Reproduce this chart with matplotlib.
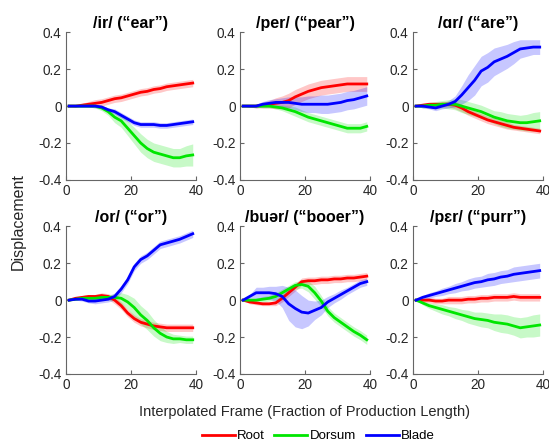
import numpy as np
import matplotlib
matplotlib.use("Agg")
import matplotlib.pyplot as plt

plt.rcParams['font.family'] = ['Liberation Sans', 'DejaVu Sans']

frames = [1, 3, 5, 7, 9, 11, 13, 15, 17, 19, 21, 23, 25, 27, 29, 31, 33, 35, 37, 39]

titles = ['/ir/ (\u201cear\u201d)', '/per/ (\u201cpear\u201d)', '/\u0251r/ (\u201care\u201d)',
          '/or/ (\u201cor\u201d)', '/bu\u0259r/ (\u201cbooer\u201d)', '/p\u025br/ (\u201cpurr\u201d)']

# mean displacement per articulator, one list per panel
root = [
    [0, 0, 0.005, 0.01, 0.015, 0.02, 0.03, 0.04, 0.045, 0.055, 0.065, 0.075, 0.08, 0.09, 0.095, 0.105, 0.11, 0.115, 0.12, 0.125],
    [0, 0, 0, 0.005, 0.01, 0.015, 0.02, 0.03, 0.05, 0.065, 0.08, 0.09, 0.1, 0.105, 0.11, 0.115, 0.12, 0.12, 0.12, 0.12],
    [0, 0.005, 0.01, 0.01, 0.01, 0.01, 0.005, -0.01, -0.03, -0.045, -0.06, -0.075, -0.085, -0.095, -0.105, -0.115, -0.12, -0.125, -0.13, -0.135],
    [0, 0.01, 0.015, 0.02, 0.02, 0.025, 0.02, 0.0, -0.03, -0.07, -0.1, -0.12, -0.13, -0.14, -0.145, -0.15, -0.15, -0.15, -0.15, -0.15],
    [0, -0.01, -0.015, -0.02, -0.02, -0.015, 0.01, 0.04, 0.07, 0.1, 0.105, 0.105, 0.11, 0.11, 0.115, 0.115, 0.12, 0.12, 0.125, 0.13],
    [0, 0, 0, -0.005, -0.005, 0, 0, 0, 0.005, 0.005, 0.01, 0.01, 0.015, 0.015, 0.015, 0.02, 0.015, 0.015, 0.015, 0.015],
]
dorsum = [
    [0, 0, 0, 0, 0, -0.01, -0.03, -0.06, -0.08, -0.12, -0.16, -0.2, -0.23, -0.25, -0.26, -0.27, -0.28, -0.28, -0.27, -0.265],
    [0, 0, 0, 0, 0, -0.005, -0.01, -0.02, -0.03, -0.045, -0.06, -0.07, -0.08, -0.09, -0.1, -0.11, -0.12, -0.12, -0.12, -0.11],
    [0, 0, 0.005, 0.005, 0.01, 0.01, 0.01, 0.0, -0.01, -0.02, -0.03, -0.045, -0.06, -0.07, -0.08, -0.085, -0.09, -0.09, -0.085, -0.08],
    [0, 0.005, 0.01, 0.01, 0.01, 0.015, 0.015, 0.015, 0.01, -0.01, -0.04, -0.08, -0.11, -0.15, -0.18, -0.2, -0.21, -0.21, -0.215, -0.215],
    [0, 0, 0, 0.005, 0.01, 0.02, 0.04, 0.06, 0.08, 0.085, 0.075, 0.04, -0.005, -0.06, -0.095, -0.12, -0.145, -0.17, -0.19, -0.215],
    [0, -0.015, -0.03, -0.04, -0.05, -0.06, -0.07, -0.08, -0.09, -0.1, -0.105, -0.11, -0.12, -0.125, -0.13, -0.14, -0.15, -0.145, -0.14, -0.135],
]
blade = [
    [0, 0, 0, 0, 0, -0.005, -0.02, -0.03, -0.05, -0.07, -0.09, -0.1, -0.1, -0.1, -0.105, -0.105, -0.1, -0.095, -0.09, -0.085],
    [0, 0, 0, 0.01, 0.015, 0.02, 0.02, 0.02, 0.015, 0.01, 0.01, 0.01, 0.01, 0.01, 0.015, 0.02, 0.03, 0.035, 0.045, 0.055],
    [0, 0, -0.005, -0.01, 0, 0.01, 0.025, 0.06, 0.1, 0.14, 0.19, 0.21, 0.24, 0.255, 0.27, 0.29, 0.31, 0.315, 0.32, 0.32],
    [0, 0.005, 0.005, -0.005, -0.005, 0, 0.005, 0.02, 0.06, 0.11, 0.18, 0.22, 0.24, 0.27, 0.3, 0.31, 0.32, 0.33, 0.345, 0.36],
    [0, 0.02, 0.04, 0.04, 0.04, 0.035, 0.02, -0.02, -0.045, -0.065, -0.07, -0.055, -0.04, -0.01, 0.01, 0.03, 0.05, 0.07, 0.09, 0.1],
    [0, 0.015, 0.025, 0.035, 0.045, 0.055, 0.065, 0.075, 0.085, 0.095, 0.1, 0.11, 0.115, 0.125, 0.13, 0.14, 0.145, 0.15, 0.155, 0.16],
]

# half-width of shaded band
root_sd = [
    [0, 0.005, 0.01, 0.015, 0.02, 0.02, 0.02, 0.02, 0.02, 0.02, 0.02, 0.02, 0.02, 0.02, 0.02, 0.02, 0.02, 0.02, 0.02, 0.02],
    [0, 0.005, 0.01, 0.015, 0.02, 0.03, 0.035, 0.04, 0.04, 0.04, 0.04, 0.04, 0.04, 0.04, 0.04, 0.04, 0.04, 0.04, 0.04, 0.04],
    [0, 0.005, 0.01, 0.01, 0.015, 0.015, 0.02, 0.02, 0.02, 0.02, 0.02, 0.02, 0.02, 0.02, 0.02, 0.015, 0.015, 0.015, 0.015, 0.015],
    [0, 0.005, 0.01, 0.01, 0.01, 0.015, 0.015, 0.02, 0.02, 0.02, 0.02, 0.02, 0.02, 0.02, 0.02, 0.02, 0.02, 0.02, 0.02, 0.02],
    [0, 0.01, 0.01, 0.01, 0.01, 0.015, 0.02, 0.02, 0.02, 0.02, 0.02, 0.02, 0.02, 0.02, 0.02, 0.02, 0.02, 0.02, 0.02, 0.02],
    [0, 0.01, 0.015, 0.015, 0.015, 0.02, 0.02, 0.02, 0.02, 0.02, 0.02, 0.02, 0.02, 0.02, 0.02, 0.02, 0.02, 0.02, 0.02, 0.02],
]
dorsum_sd = [
    [0, 0.005, 0.005, 0.005, 0.01, 0.015, 0.02, 0.03, 0.035, 0.04, 0.045, 0.05, 0.05, 0.05, 0.05, 0.05, 0.05, 0.05, 0.055, 0.06],
    [0, 0.005, 0.005, 0.01, 0.01, 0.01, 0.015, 0.02, 0.025, 0.025, 0.025, 0.025, 0.025, 0.025, 0.025, 0.025, 0.025, 0.025, 0.025, 0.025],
    [0, 0.01, 0.015, 0.02, 0.02, 0.025, 0.03, 0.035, 0.035, 0.035, 0.035, 0.035, 0.035, 0.04, 0.04, 0.04, 0.04, 0.045, 0.05, 0.05],
    [0, 0.005, 0.005, 0.005, 0.01, 0.01, 0.015, 0.02, 0.03, 0.04, 0.05, 0.05, 0.05, 0.045, 0.04, 0.03, 0.025, 0.02, 0.02, 0.02],
    [0, 0.005, 0.01, 0.015, 0.015, 0.02, 0.02, 0.02, 0.02, 0.02, 0.03, 0.035, 0.03, 0.025, 0.025, 0.025, 0.025, 0.025, 0.025, 0.025],
    [0, 0.01, 0.015, 0.02, 0.025, 0.025, 0.03, 0.03, 0.035, 0.035, 0.04, 0.04, 0.045, 0.05, 0.05, 0.05, 0.055, 0.055, 0.06, 0.06],
]
blade_sd = [
    [0, 0.005, 0.005, 0.005, 0.01, 0.01, 0.01, 0.015, 0.015, 0.015, 0.015, 0.015, 0.015, 0.015, 0.015, 0.015, 0.015, 0.015, 0.015, 0.015],
    [0, 0.005, 0.01, 0.015, 0.02, 0.02, 0.025, 0.03, 0.035, 0.04, 0.045, 0.045, 0.05, 0.05, 0.05, 0.05, 0.05, 0.05, 0.05, 0.05],
    [0, 0.01, 0.01, 0.015, 0.015, 0.02, 0.03, 0.05, 0.07, 0.08, 0.08, 0.08, 0.075, 0.07, 0.065, 0.06, 0.05, 0.045, 0.04, 0.04],
    [0, 0.005, 0.01, 0.01, 0.015, 0.015, 0.015, 0.02, 0.02, 0.02, 0.02, 0.02, 0.02, 0.02, 0.02, 0.02, 0.02, 0.02, 0.02, 0.02],
    [0, 0.01, 0.03, 0.03, 0.035, 0.04, 0.06, 0.09, 0.1, 0.09, 0.07, 0.05, 0.04, 0.03, 0.025, 0.025, 0.02, 0.02, 0.02, 0.02],
    [0, 0.01, 0.015, 0.015, 0.02, 0.02, 0.025, 0.025, 0.03, 0.03, 0.03, 0.035, 0.035, 0.035, 0.035, 0.04, 0.04, 0.04, 0.04, 0.04],
]

series = [('Root', root, root_sd, (1, 0, 0)),
          ('Dorsum', dorsum, dorsum_sd, (0, 0.9, 0)),
          ('Blade', blade, blade_sd, (0, 0, 1))]

fig = plt.figure(figsize=(5.49, 4.43), dpi=100)

lefts = [0.120, 0.437, 0.752]
bottoms = [0.594, 0.156]
w, h = 0.237, 0.333

axes = []
for r in range(2):
    for c in range(3):
        axes.append(fig.add_axes([lefts[c], bottoms[r], w, h]))

x = np.array(frames)
for i, ax in enumerate(axes):
    for name, means, sds, col in series:
        m = np.array(means[i])
        s = np.array(sds[i])
        ax.fill_between(x, m - s, m + s, color=col, alpha=0.22, lw=0)
        ax.plot(x, m, color=col, lw=2.0, label=name)
    ax.set_xlim(0, 40)
    ax.set_ylim(-0.4, 0.4)
    ax.set_xticks([0, 20, 40])
    ax.set_yticks([-0.4, -0.2, 0, 0.2, 0.4])
    ax.set_yticklabels(['-0.4', '-0.2', '0', '0.2', '0.4'])
    ax.spines['top'].set_visible(False)
    ax.spines['right'].set_visible(False)
    for sp in ['left', 'bottom']:
        ax.spines[sp].set_color('0.4')
        ax.spines[sp].set_linewidth(0.8)
    ax.tick_params(direction='in', length=3, colors='0.4', labelcolor='0.15', labelsize=9.8, pad=3)
    ax.set_title(titles[i], fontsize=11.5, fontweight='bold', pad=3)

fig.text(0.033, 0.5, 'Displacement', rotation=90, ha='center', va='center', fontsize=11.5, color='0.15')
fig.text(0.555, 0.07, 'Interpolated Frame (Fraction of Production Length)', ha='center', va='center', fontsize=10.5, color='0.15')

handles, labels = axes[0].get_legend_handles_labels()
fig.legend(handles, labels, loc='center', bbox_to_anchor=(0.58, 0.015), ncol=3, frameon=False,
           fontsize=9.5, handlelength=2.5, columnspacing=0.7, handletextpad=0.2)

fig.savefig('out.png', dpi=100)
